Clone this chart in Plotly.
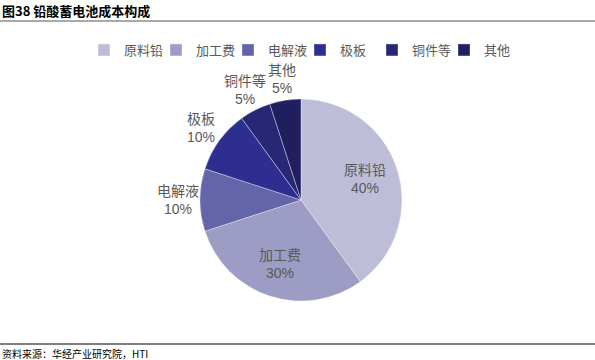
import math
import plotly.graph_objects as go

labels = ["原料铅", "加工费", "电解液", "极板", "铜件等", "其他"]
values = [40, 30, 10, 10, 5, 5]
colors = ["#BDBDD8", "#9C9CC4", "#6464A9", "#2E2E90", "#272776", "#1F1F60"]
inside = [True, True, False, False, False, False]

W, H = 595, 360
cx, cy, r = 301, 200, 101

fig = go.Figure(go.Pie(
    labels=labels,
    values=values,
    sort=False,
    direction="clockwise",
    rotation=0,
    marker=dict(colors=colors, line=dict(color="rgba(255,255,255,0.6)", width=0.6)),
    textinfo="none",
    hoverinfo="label+percent",
    domain=dict(x=[(cx - r) / W, (cx + r) / W], y=[(H - cy - r) / H, (H - cy + r) / H]),
))

# slice labels placed at each slice's mid-angle (derived from the values)
total = sum(values)
annotations = []
cum = 0
for lab, v, ins in zip(labels, values, inside):
    mid = (cum + v / 2) / total * 2 * math.pi
    cum += v
    dist = 0.67 * r if ins else r + 22
    px = cx + dist * math.sin(mid)
    py = cy - dist * math.cos(mid)
    annotations.append(dict(
        text=f"{lab}<br>{round(v / total * 100)}%",
        xref="paper", yref="paper", x=px / W, y=1 - py / H,
        xanchor="center", yanchor="middle", showarrow=False, align="center",
        font=dict(family="Liberation Sans, Noto Sans CJK SC", size=14, color="#595959"),
    ))

annotations += [
    dict(text="<b>图38 铅酸蓄电池成本构成</b>", xref="paper", yref="paper",
         x=0, y=1 - 10 / H, xanchor="left", yanchor="middle", showarrow=False,
         font=dict(family="Noto Sans CJK SC", size=13, color="#000000")),
    dict(text="资料来源：华经产业研究院，HTI", xref="paper", yref="paper",
         x=0, y=1 - 353.5 / H, xanchor="left", yanchor="middle", showarrow=False,
         font=dict(family="Noto Sans CJK SC", size=10, color="#000000")),
]

fig.update_layout(
    width=W, height=H,
    margin=dict(l=0, r=0, t=0, b=0, autoexpand=False),
    paper_bgcolor="white",
    showlegend=True,
    legend=dict(
        orientation="h",
        x=300 / W, xanchor="center",
        y=1 - 50 / H, yanchor="middle",
        font=dict(family="Noto Sans CJK SC", size=13, color="#595959"),
        entrywidth=27, entrywidthmode="pixels",
        itemwidth=30,
        bgcolor="rgba(0,0,0,0)",
    ),
    shapes=[
        dict(type="line", xref="paper", yref="paper", x0=0, x1=1,
             y0=1 - 21 / H, y1=1 - 21 / H, line=dict(color="#8C8C8C", width=1.5)),
        dict(type="line", xref="paper", yref="paper", x0=0, x1=1,
             y0=1 - 344 / H, y1=1 - 344 / H, line=dict(color="#555555", width=1.5)),
    ],
    annotations=annotations,
)

fig.write_html("out.html", config={"displayModeBar": False},
               post_script="document.body.style.margin='0';document.body.style.overflow='hidden';")
